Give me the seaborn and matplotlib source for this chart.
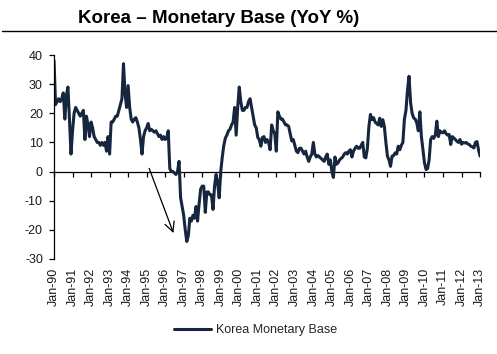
import numpy as np
import pandas as pd
import seaborn as sns
import matplotlib.pyplot as plt
from matplotlib.lines import Line2D

# monthly YoY % growth of Korea's monetary base, Jan-90 .. Jan-13
mb_yoy = [
    38, 23, 24, 25, 24, 25, 27, 18, 26, 29, 18, 6,                 # 1990
    14, 20, 22, 21, 20, 19, 20, 21, 11, 19, 16, 12,                # 1991
    17, 15, 12, 11, 10, 10, 9, 10, 9, 10, 7, 12,                   # 1992
    6, 17, 17, 18, 19, 19, 21, 23, 25, 37, 27, 22,                 # 1993
    29.5, 22, 18, 17, 18, 18.5, 17, 15, 11, 6, 12, 14,             # 1994
    15, 16.5, 14, 14.5, 14, 13.5, 14, 13, 12, 12.5, 11, 12,        # 1995
    11, 11.5, 14, 1, 0, 0, -0.5, -1, 0, 3.5, -9, -12,              # 1996
    -15, -20, -24, -22, -16, -17, -15, -16, -12, -17, -11, -6,     # 1997
    -5, -5, -14, -7, -7, -8, -8, -13, -5, -1, -4, -9,              # 1998
    0, 5, 9, 11.5, 12.5, 14, 14.5, 16, 17, 22, 12.5, 22,           # 1999
    29, 24, 21, 21, 22, 22, 24, 25, 22, 19, 16, 15,                # 2000
    11.7, 11, 8.7, 11.7, 12, 10, 11, 10, 7.5, 16, 14, 13,          # 2001
    7, 20.5, 19, 18, 18, 17, 16, 16, 15.5, 13, 10.5, 11,           # 2002
    9, 7, 6.5, 8, 8, 7, 6, 7, 5, 3.5, 5, 6,                        # 2003
    10, 6, 5, 5.5, 5, 4.5, 4, 3.5, 5, 6, 2.5, 4,                   # 2004
    0, -2, 5, 2.5, 3, 4, 4.5, 5, 6, 6.5, 6, 7,                     # 2005
    7.5, 5, 7, 8, 8.7, 8, 8, 9, 10, 5, 4.7, 8,                     # 2006
    15.5, 19.6, 17.8, 18.5, 17, 16.5, 16, 18.3, 15.5, 17.8, 15.5, 10,  # 2007
    5.3, 4, 1.8, 5.3, 5.5, 6.4, 6, 8.7, 7.5, 9, 10, 18,            # 2008
    21, 28, 32.7, 23.6, 20, 18.4, 18, 16.7, 14, 20.5, 12, 7.5,     # 2009
    3, 0.7, 1, 4, 11, 12, 11.4, 12.5, 17.3, 12, 14, 13.5,          # 2010
    13.3, 14, 13, 12.5, 12.7, 9.3, 12, 11.5, 11, 10.4, 10, 11,     # 2011
    9.4, 10, 9.8, 10, 9.5, 9.3, 8.7, 8.5, 8.1, 10, 10.3, 7.5,      # 2012
    5.3,                                                           # 2013
]

tick_labels = [
    "Jan-90", "Jan-91", "Jan-92", "Jan-93", "Jan-94", "Jan-95", "Jan-96",
    "Jan-97", "Jan-98", "Jan-99", "Jan-00", "Jan-01", "Jan-02", "Jan-03",
    "Jan-04", "Jan-05", "Jan-06", "Jan-07", "Jan-08", "Jan-09", "Jan-10",
    "Jan-11", "Jan-12", "Jan-13",
]
y_ticks = [-30, -20, -10, 0, 10, 20, 30, 40]

df = pd.DataFrame({"month": np.arange(len(mb_yoy)), "yoy": mb_yoy})

sns.set_style("white")
plt.rcParams["font.family"] = ["Liberation Sans", "DejaVu Sans"]

navy = "#17263f"
txt = "#1a1a1a"

fig = plt.figure(figsize=(4.97, 3.54), dpi=100)
ax = fig.add_axes([0.1087, 0.2684, 0.8572, 0.5762])

sns.lineplot(data=df, x="month", y="yoy", ax=ax, color=navy, linewidth=2.2)

ax.set_xlim(0, 12 * (len(tick_labels) - 1))
ax.set_ylim(-30, 40)
ax.set_xlabel("")
ax.set_ylabel("")

xt = np.arange(len(tick_labels)) * 12
ax.set_xticks(xt)
ax.set_xticklabels(tick_labels, rotation=90, fontsize=9, color=txt)
ax.set_yticks(y_ticks)
ax.set_yticklabels([str(v) for v in y_ticks], fontsize=9, color=txt)
ax.tick_params(axis="x", length=0, pad=6.5)
ax.tick_params(axis="y", length=3.5, width=0.9, color="black", pad=4.5, left=True)

for s in ["top", "right", "bottom"]:
    ax.spines[s].set_visible(False)
ax.spines["left"].set_color("black")
ax.spines["left"].set_linewidth(0.9)

# zero line with tick marks
zero_ax = ax.secondary_xaxis(30 / 70)
zero_ax.set_xticks(xt)
zero_ax.set_xticklabels([])
zero_ax.tick_params(length=3.8, width=0.9, color="black", direction="out")
zero_ax.spines["bottom"].set_color("black")
zero_ax.spines["bottom"].set_linewidth(0.9)

# arrow highlighting the 1997 collapse
ax.annotate("", xy=(78, -22), xytext=(61, 2),
            arrowprops=dict(arrowstyle="->,head_length=0.7,head_width=0.35",
                            color="black", lw=0.9))

fig.text(78 / 497, 1 - 22.7 / 354, "Korea \u2013 Monetary Base (YoY %)",
         fontsize=13.5, fontweight="bold", color="black", va="baseline")
fig.add_artist(Line2D([0.005, 1.0], [1 - 31 / 354, 1 - 31 / 354],
                      color="black", linewidth=1.0, transform=fig.transFigure))

handle = Line2D([], [], color=navy, linewidth=2.2)
fig.legend([handle], ["Korea Monetary Base"], loc="center",
           bbox_to_anchor=(255.5 / 497, 1 - 330 / 354), frameon=False,
           fontsize=9, handlelength=3.0, handletextpad=0.4)

fig.savefig("out.png", dpi=100)
